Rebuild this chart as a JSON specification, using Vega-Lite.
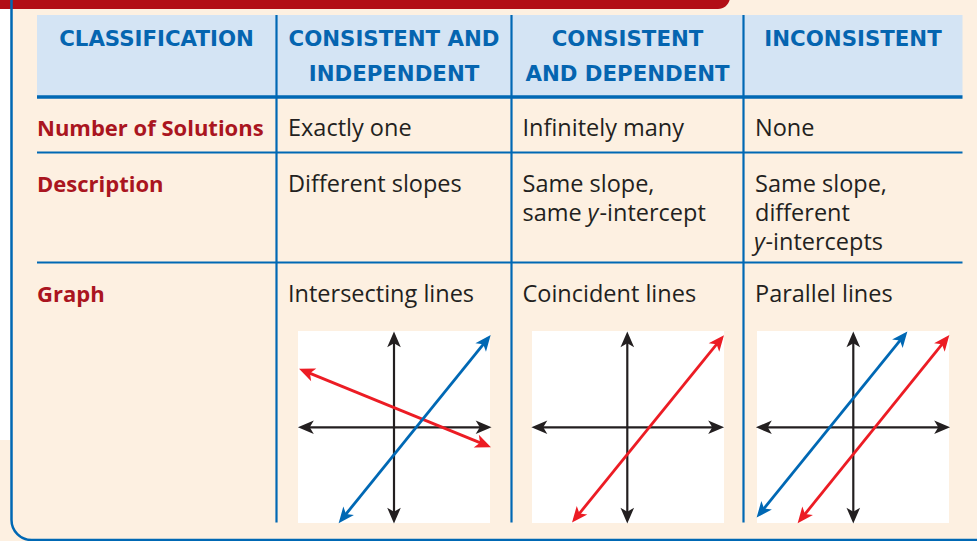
{
  "$schema": "https://vega.github.io/schema/vega-lite/v6.json",
  "width": 977,
  "height": 541,
  "autosize": {"type": "fit", "contains": "padding"},
  "padding": 0,
  "background": "#fdf0e1",
  "config": {"view": {"stroke": null}},
  "datasets": {
    "rects": [
      {"id": "leftwhite", "x1": 0, "x2": 10.5, "y1": 9, "y2": 440},
      {"id": "header", "x1": 37, "x2": 962.5, "y1": 15, "y2": 97},
      {"id": "graph1", "x1": 298, "x2": 490, "y1": 331, "y2": 523},
      {"id": "graph2", "x1": 532, "x2": 724, "y1": 331, "y2": 523},
      {"id": "graph3", "x1": 757, "x2": 949, "y1": 331, "y2": 523}
    ],
    "banner": [{"x1": -20, "x2": 730, "y1": -30, "y2": 9}],
    "frame": [{"x1": 11.5, "x2": 1100, "y1": -30, "y2": 540}],
    "tlines": [
      {"kind": "thin", "x1": 37, "x2": 962.5, "y1": 152.5, "y2": 152.5},
      {"kind": "thin", "x1": 37, "x2": 962.5, "y1": 262.5, "y2": 262.5},
      {"kind": "thin", "x1": 276.5, "x2": 276.5, "y1": 15, "y2": 522.5},
      {"kind": "thin", "x1": 511.5, "x2": 511.5, "y1": 15, "y2": 522.5},
      {"kind": "thin", "x1": 743.5, "x2": 743.5, "y1": 15, "y2": 522.5},
      {"kind": "thick", "x1": 37, "x2": 962.5, "y1": 97, "y2": 97}
    ],
    "segs": [
      {"graph": 1, "kind": "axis", "x1": 302, "y1": 427.3, "x2": 487.5, "y2": 427.3},
      {"graph": 1, "kind": "axis", "x1": 394, "y1": 519.5, "x2": 394, "y2": 335.5},
      {"graph": 1, "kind": "red", "x1": 302.8, "y1": 370.4, "x2": 487.2, "y2": 445.6},
      {"graph": 1, "kind": "blue", "x1": 341.2, "y1": 520.0, "x2": 488.1, "y2": 338.3},
      {"graph": 2, "kind": "axis", "x1": 535.5, "y1": 427.3, "x2": 720, "y2": 427.3},
      {"graph": 2, "kind": "axis", "x1": 627.3, "y1": 519.5, "x2": 627.3, "y2": 335.5},
      {"graph": 2, "kind": "red", "x1": 574.6, "y1": 519.4, "x2": 721.4, "y2": 338.3},
      {"graph": 3, "kind": "axis", "x1": 760, "y1": 427.3, "x2": 946, "y2": 427.3},
      {"graph": 3, "kind": "axis", "x1": 853.3, "y1": 519.5, "x2": 853.3, "y2": 335.5},
      {"graph": 3, "kind": "blue", "x1": 759.2, "y1": 514.4, "x2": 904.8, "y2": 334.6},
      {"graph": 3, "kind": "red", "x1": 800.2, "y1": 520.0, "x2": 946.8, "y2": 338.3}
    ],
    "texts": [
      {"role": "head", "x": 156.5, "y": 46, "text": "CLASSIFICATION"},
      {"role": "head", "x": 394, "y": 46, "text": "CONSISTENT AND"},
      {"role": "head", "x": 394, "y": 81, "text": "INDEPENDENT"},
      {"role": "head", "x": 627.5, "y": 46, "text": "CONSISTENT"},
      {"role": "head", "x": 627.5, "y": 81, "text": "AND DEPENDENT"},
      {"role": "head", "x": 853, "y": 46, "text": "INCONSISTENT"},
      {"role": "label", "x": 37, "y": 136, "text": "Number of Solutions"},
      {"role": "label", "x": 37, "y": 192, "text": "Description"},
      {"role": "label", "x": 37, "y": 302, "text": "Graph"},
      {"role": "body", "x": 288, "y": 136, "text": "Exactly one"},
      {"role": "body", "x": 522.5, "y": 136, "text": "Infinitely many"},
      {"role": "body", "x": 755, "y": 136, "text": "None"},
      {"role": "body", "x": 288, "y": 192, "text": "Different slopes"},
      {"role": "body", "x": 522.5, "y": 192, "text": "Same slope,"},
      {"role": "body", "x": 522.5, "y": 221, "text": "same"},
      {"role": "italic", "x": 587.5, "y": 221, "text": "y"},
      {"role": "body", "x": 599.5, "y": 221, "text": "-intercept"},
      {"role": "body", "x": 755, "y": 192, "text": "Same slope,"},
      {"role": "body", "x": 755, "y": 221, "text": "different"},
      {"role": "italic", "x": 754, "y": 250, "text": "y"},
      {"role": "body", "x": 765.5, "y": 250, "text": "-intercepts"},
      {"role": "body", "x": 288, "y": 302, "text": "Intersecting lines"},
      {"role": "body", "x": 522.5, "y": 302, "text": "Coincident lines"},
      {"role": "body", "x": 755, "y": 302, "text": "Parallel lines"}
    ]
  },
  "layer": [
    {
      "data": {"name": "rects"},
      "mark": {"type": "rect"},
      "encoding": {
        "x": {"field": "x1", "type": "quantitative", "scale": {"domain": [0, 977], "nice": false, "zero": false}, "axis": null},
        "x2": {"field": "x2"},
        "y": {"field": "y1", "type": "quantitative", "scale": {"domain": [0, 541], "nice": false, "zero": false, "reverse": true}, "axis": null},
        "y2": {"field": "y2"},
        "fill": {"field": "id", "type": "nominal", "legend": null,
          "scale": {"domain": ["leftwhite", "header", "graph1", "graph2", "graph3"], "range": ["#ffffff", "#d4e4f4", "#ffffff", "#ffffff", "#ffffff"]}}
      }
    },
    {
      "data": {"name": "banner"},
      "mark": {"type": "rect", "fill": "#b20e16", "cornerRadiusBottomRight": 12, "clip": true},
      "encoding": {
        "x": {"field": "x1", "type": "quantitative", "axis": null},
        "x2": {"field": "x2"},
        "y": {"field": "y1", "type": "quantitative", "axis": null},
        "y2": {"field": "y2"}
      }
    },
    {
      "data": {"name": "frame"},
      "mark": {"type": "rect", "fill": null, "fillOpacity": 0, "stroke": "#0068b4", "strokeWidth": 2.5, "cornerRadiusBottomLeft": 20, "clip": true},
      "encoding": {
        "x": {"field": "x1", "type": "quantitative", "axis": null},
        "x2": {"field": "x2"},
        "y": {"field": "y1", "type": "quantitative", "axis": null},
        "y2": {"field": "y2"}
      }
    },
    {
      "data": {"name": "tlines"},
      "transform": [{"filter": "datum.kind === 'thin'"}],
      "mark": {"type": "rule", "color": "#0068b4", "strokeWidth": 2.2},
      "encoding": {
        "x": {"field": "x1", "type": "quantitative", "axis": null},
        "x2": {"field": "x2"},
        "y": {"field": "y1", "type": "quantitative", "axis": null},
        "y2": {"field": "y2"}
      }
    },
    {
      "data": {"name": "tlines"},
      "transform": [{"filter": "datum.kind === 'thick'"}],
      "mark": {"type": "rule", "color": "#0068b4", "strokeWidth": 3.5},
      "encoding": {
        "x": {"field": "x1", "type": "quantitative", "axis": null},
        "x2": {"field": "x2"},
        "y": {"field": "y1", "type": "quantitative", "axis": null},
        "y2": {"field": "y2"}
      }
    },
    {
      "data": {"name": "segs"},
      "transform": [{"filter": "datum.kind === 'axis'"}],
      "mark": {"type": "rule", "strokeWidth": 2.2, "color": "#231f20"},
      "encoding": {
        "x": {"field": "x1", "type": "quantitative", "axis": null},
        "x2": {"field": "x2"},
        "y": {"field": "y1", "type": "quantitative", "axis": null},
        "y2": {"field": "y2"}
      }
    },
    {
      "data": {"name": "segs"},
      "transform": [{"filter": "datum.kind !== 'axis'"}],
      "mark": {"type": "rule", "strokeWidth": 2.8},
      "encoding": {
        "x": {"field": "x1", "type": "quantitative", "axis": null},
        "x2": {"field": "x2"},
        "y": {"field": "y1", "type": "quantitative", "axis": null},
        "y2": {"field": "y2"},
        "color": {"field": "kind", "type": "nominal", "legend": null,
          "scale": {"domain": ["axis", "red", "blue"], "range": ["#231f20", "#ec1c24", "#0068b4"]}}
      }
    },
    {
      "data": {"name": "segs"},
      "transform": [{"calculate": "atan2(datum.x2 - datum.x1, -(datum.y2 - datum.y1)) * 180 / PI", "as": "headAngle"}],
      "mark": {"type": "point", "filled": true, "opacity": 1, "size": 330, "strokeWidth": 0,
        "shape": "M0,-0.45L0.75,1.3L0,0.85L-0.75,1.3Z"},
      "encoding": {
        "x": {"field": "x2", "type": "quantitative", "axis": null},
        "y": {"field": "y2", "type": "quantitative", "axis": null},
        "angle": {"field": "headAngle", "type": "quantitative", "scale": null},
        "color": {"field": "kind", "type": "nominal", "legend": null}
      }
    },
    {
      "data": {"name": "segs"},
      "transform": [{"calculate": "atan2(datum.x1 - datum.x2, -(datum.y1 - datum.y2)) * 180 / PI", "as": "tailAngle"}],
      "mark": {"type": "point", "filled": true, "opacity": 1, "size": 330, "strokeWidth": 0,
        "shape": "M0,-0.45L0.75,1.3L0,0.85L-0.75,1.3Z"},
      "encoding": {
        "x": {"field": "x1", "type": "quantitative", "axis": null},
        "y": {"field": "y1", "type": "quantitative", "axis": null},
        "angle": {"field": "tailAngle", "type": "quantitative", "scale": null},
        "color": {"field": "kind", "type": "nominal", "legend": null}
      }
    },
    {
      "data": {"name": "texts"},
      "transform": [{"filter": "datum.role === 'head'"}],
      "mark": {"type": "text", "align": "center", "baseline": "alphabetic", "font": "DejaVu Sans", "fontWeight": "bold", "fontSize": 21.3, "fill": "#0565b0"},
      "encoding": {
        "x": {"field": "x", "type": "quantitative", "axis": null},
        "y": {"field": "y", "type": "quantitative", "axis": null},
        "text": {"field": "text"}
      }
    },
    {
      "data": {"name": "texts"},
      "transform": [{"filter": "datum.role === 'label'"}],
      "mark": {"type": "text", "align": "left", "baseline": "alphabetic", "font": "Open Sans", "fontWeight": "bold", "fontSize": 22, "fill": "#aa1520"},
      "encoding": {
        "x": {"field": "x", "type": "quantitative", "axis": null},
        "y": {"field": "y", "type": "quantitative", "axis": null},
        "text": {"field": "text"}
      }
    },
    {
      "data": {"name": "texts"},
      "transform": [{"filter": "datum.role === 'body'"}],
      "mark": {"type": "text", "align": "left", "baseline": "alphabetic", "font": "Open Sans", "fontSize": 23.5, "fill": "#231f20"},
      "encoding": {
        "x": {"field": "x", "type": "quantitative", "axis": null},
        "y": {"field": "y", "type": "quantitative", "axis": null},
        "text": {"field": "text"}
      }
    },
    {
      "data": {"name": "texts"},
      "transform": [{"filter": "datum.role === 'italic'"}],
      "mark": {"type": "text", "align": "left", "baseline": "alphabetic", "font": "Open Sans", "fontStyle": "italic", "fontSize": 23.5, "fill": "#231f20"},
      "encoding": {
        "x": {"field": "x", "type": "quantitative", "axis": null},
        "y": {"field": "y", "type": "quantitative", "axis": null},
        "text": {"field": "text"}
      }
    }
  ]
}
